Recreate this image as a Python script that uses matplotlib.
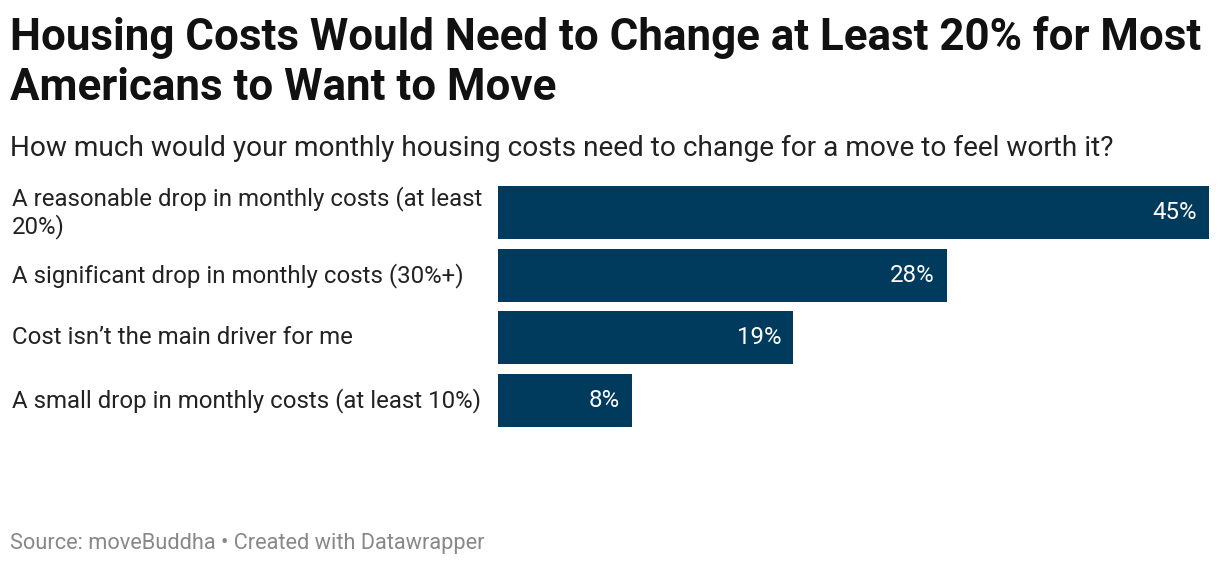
import matplotlib.pyplot as plt

categories = [
    "A reasonable drop in monthly costs (at least\n20%)",
    "A significant drop in monthly costs (30%+)",
    "Cost isn\u2019t the main driver for me",
    "A small drop in monthly costs (at least 10%)",
]
# bar lengths (labels show rounded values)
values = [45.0, 28.4, 18.7, 8.45]
value_labels = ["45%", "28%", "19%", "8%"]

W, H = 1220, 566
fig = plt.figure(figsize=(W / 100, H / 100), dpi=100)
plt.rcParams['font.family'] = ['Roboto', 'DejaVu Sans']

# axes placed in pixel terms
left, right, top, bottom = 498, 1209, 186, 427
ax = fig.add_axes([left / W, 1 - bottom / H, (right - left) / W, (bottom - top) / H])

bar_h = 53 / 62
pos = list(range(len(values)))
ax.barh(pos, values, height=bar_h, color='#003a5d')
ax.set_xlim(0, max(values))
ax.set_ylim(len(values) - 1 + bar_h / 2, -bar_h / 2)
ax.axis('off')

for p, v, lab in zip(pos, values, value_labels):
    ax.annotate(lab, (v, p), xytext=(-8.6, 0), textcoords='offset points',
                color='white', ha='right', va='center', fontsize=17.3)

for p, c in zip(pos, categories):
    y = ax.transData.transform((0, p))[1]
    yf = fig.transFigure.inverted().transform((0, y))[1]
    fig.text(12 / W, yf, c, ha='left', va='center', fontsize=17.3, color='#222222',
             linespacing=1.15)

fig.text(10 / W, 1 - 50 / H, "Housing Costs Would Need to Change at Least 20% for Most",
         ha='left', va='baseline', fontsize=31.6, fontweight='bold', color='#111111')
fig.text(10 / W, 1 - 100 / H, "Americans to Want to Move",
         ha='left', va='baseline', fontsize=31.6, fontweight='bold', color='#111111')
fig.text(10 / W, 1 - 156 / H, "How much would your monthly housing costs need to change for a move to feel worth it?",
         ha='left', va='baseline', fontsize=20.2, color='#222222')
fig.text(10 / W, 1 - 549 / H, "Source: moveBuddha \u2022 Created with Datawrapper",
         ha='left', va='baseline', fontsize=15.7, color='#888888')

fig.savefig('out.png', dpi=100)
